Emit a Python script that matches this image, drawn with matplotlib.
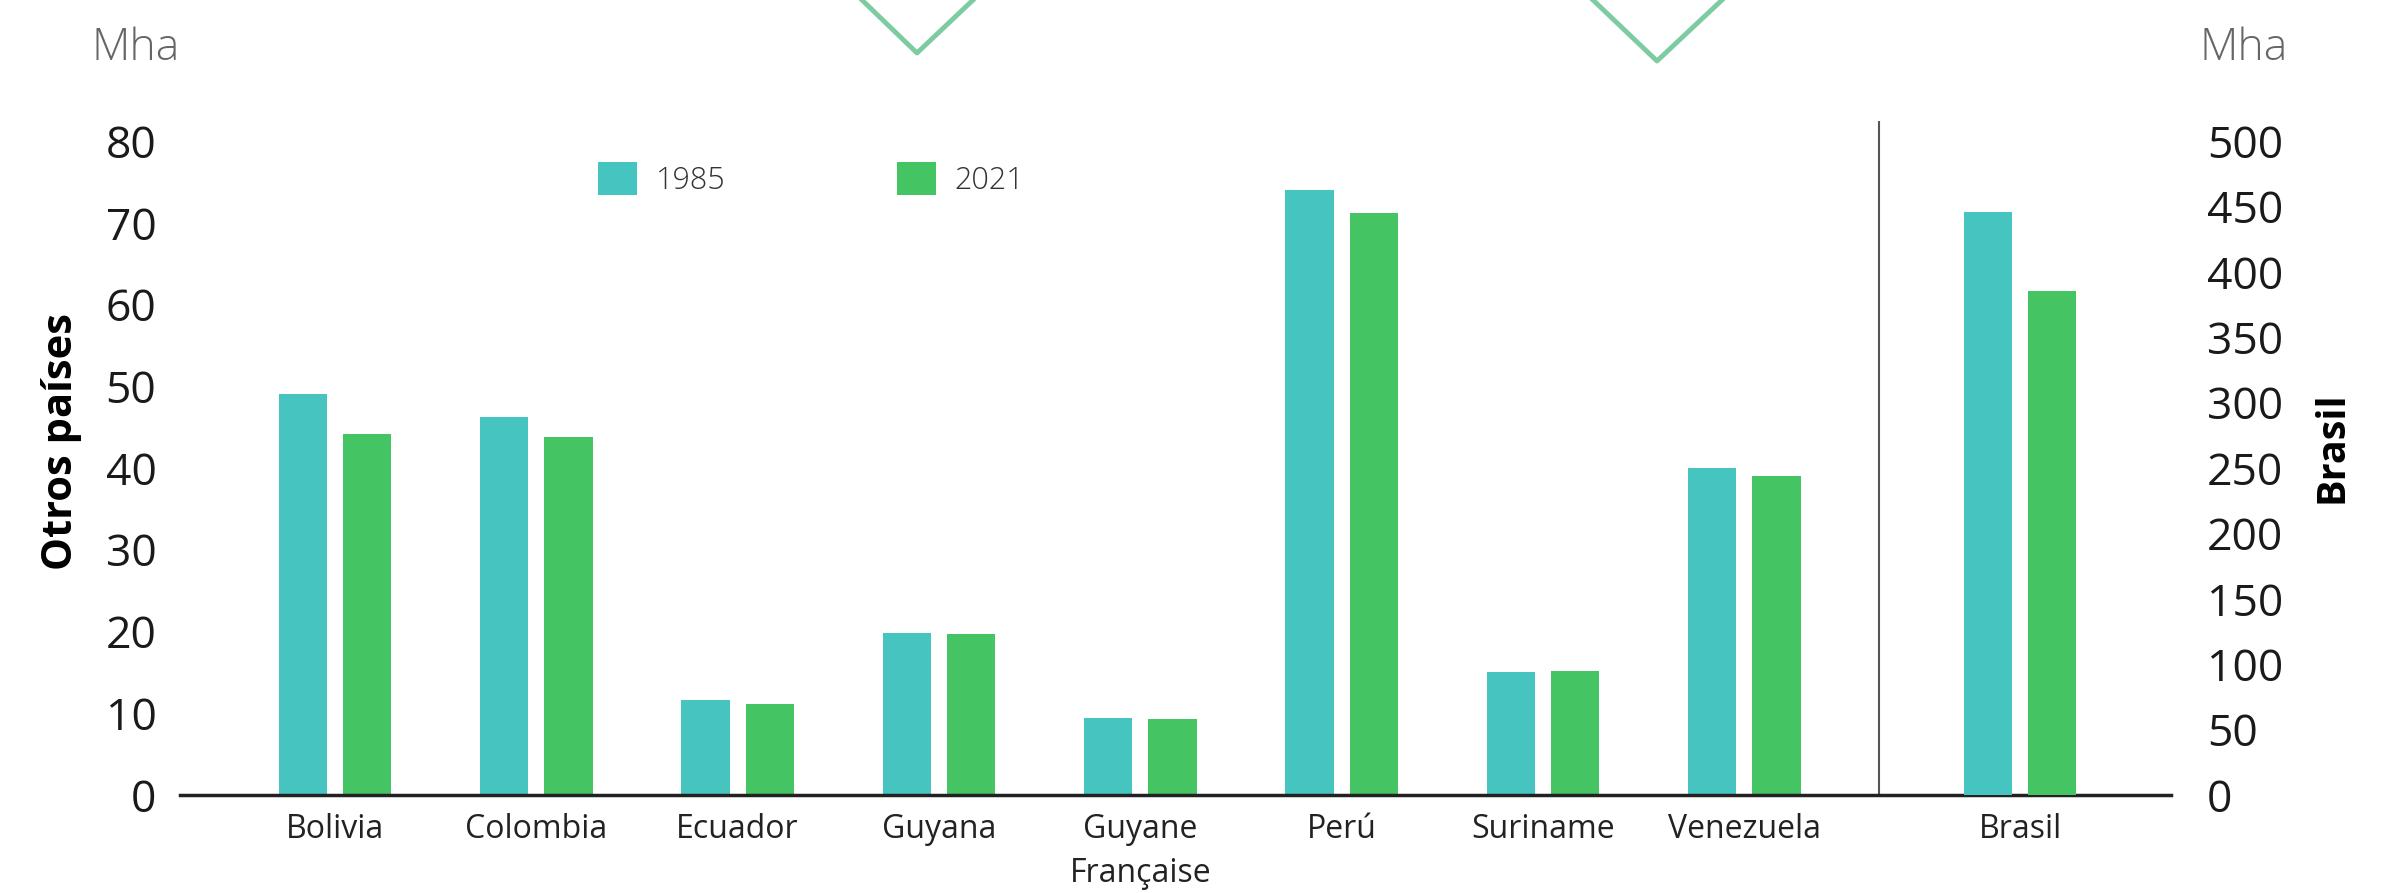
import numpy as np
import matplotlib.pyplot as plt
from matplotlib.lines import Line2D

# forest area by country, Mha (Brasil on its own right-hand scale)
countries = ["Bolivia", "Colombia", "Ecuador", "Guyana", "Guyane\nFrançaise",
             "Perú", "Suriname", "Venezuela"]
otros_1985 = [49.0, 46.2, 11.6, 19.8, 9.4, 74.0, 15.0, 40.0]
otros_2021 = [44.2, 43.8, 11.1, 19.7, 9.3, 71.2, 15.2, 39.0]
brasil_label = "Brasil"
brasil_1985 = 446
brasil_2021 = 385
years = ["1985", "2021"]

teal = "#45c4c0"
green = "#45c463"
W, H = 2383, 893

plt.rcParams['font.family'] = ['Open Sans', 'DejaVu Sans']
fig = plt.figure(figsize=(W / 100, H / 100), dpi=100)
ax = fig.add_axes([180 / W, 1 - 795 / H, (2171 - 180) / W, (795 - 121) / H])
ax2 = ax.twinx()

x = np.arange(len(countries))
xb = len(countries) - 1 + 1.37   # Brasil sits past the divider
w, off = 0.24, 0.16

ax.bar(x - off, otros_1985, w, color=teal, label=years[0])
ax.bar(x + off, otros_2021, w, color=green, label=years[1])
ax2.bar(xb - off, brasil_1985, w, color=teal)
ax2.bar(xb + off, brasil_2021, w, color=green)

top = (795 - 121) / 8.175
ax.set_ylim(0, top)
ax2.set_ylim(0, top * 500 / 80)
ax.set_xlim(-0.77, xb + 0.75)
ax.set_yticks(range(0, 81, 10))
ax2.set_yticks(range(0, 501, 50))
ax.set_xticks(list(x) + [xb])
ax.set_xticklabels(countries + [brasil_label], fontsize=23, color="#222222")
ax.get_xticklabels()[4].set_linespacing(1.42)

for a in (ax, ax2):
    for s in ("top", "left", "right", "bottom"):
        a.spines[s].set_visible(False)
ax.spines["bottom"].set_visible(True)
ax.spines["bottom"].set_linewidth(2.5)
ax.spines["bottom"].set_color("#222222")

ax.tick_params(axis="y", length=0, pad=17, labelsize=32, labelcolor="#1a1a1a")
ax2.tick_params(axis="y", length=0, pad=26, labelsize=32, labelcolor="#1a1a1a")
ax.tick_params(axis="x", length=0, pad=13)

ax.set_ylabel("Otros países", fontsize=30, fontweight="bold")
ax.yaxis.set_label_coords(-0.049, 0.525)
ax2.set_ylabel("Brasil", fontsize=28.5, fontweight="bold")
ax2.yaxis.set_label_coords(1.0713, 0.516)

# divider between the small countries and Brasil
ax.axvline(len(countries) - 1 + 0.67, color="#555555", lw=1.5)

leg = ax.legend(loc="upper left", bbox_to_anchor=(0.196, 0.98), ncol=2, frameon=False,
                fontsize=22, handlelength=1.3, handleheight=1.3, columnspacing=5.6,
                handletextpad=0.6)
for t in leg.get_texts():
    t.set_fontweight("light")
    t.set_color("#333333")

fig.text(91 / W, 1 - 49 / H, "Mha", fontsize=32, fontweight="light", color="#666666",
         va="center", ha="left")
fig.text(2199 / W, 1 - 49 / H, "Mha", fontsize=32, fontweight="light", color="#666666",
         va="center", ha="left")

# the two green chevrons along the top edge
for xs, yb in (((862, 917, 973), 53), ((1593, 1657, 1722), 61)):
    fig.add_artist(Line2D([xs[0] / W, xs[1] / W, xs[2] / W], [1, 1 - yb / H, 1],
                          transform=fig.transFigure, color="#7dcba0", lw=3.5))

fig.savefig("out.png", dpi=100)
